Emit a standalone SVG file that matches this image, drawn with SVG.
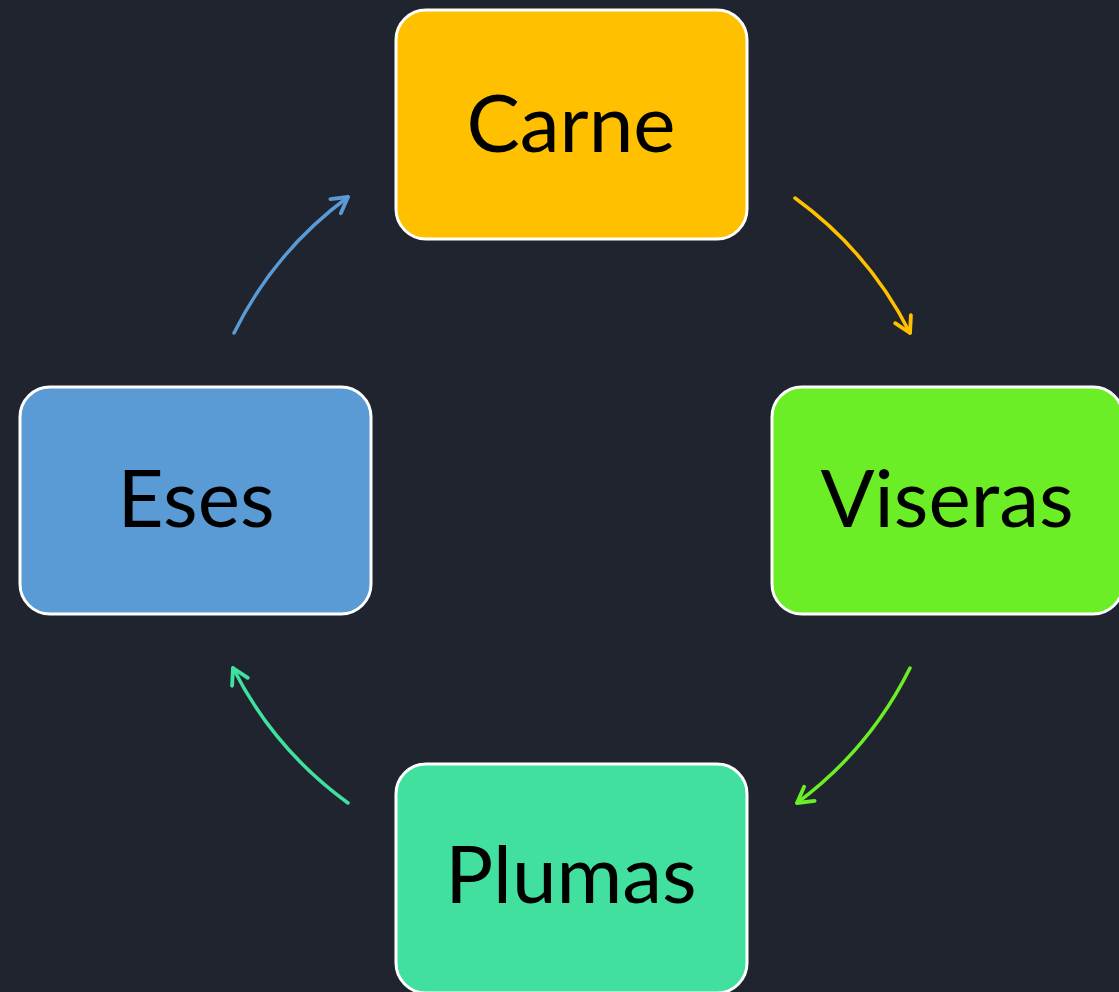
<svg xmlns="http://www.w3.org/2000/svg" width="1119" height="992" viewBox="0 0 1119 992">
<style>
.box{stroke:#ffffff;stroke-width:3}
.lbl{font-family:Lato,"Liberation Sans",sans-serif;font-size:80px;fill:#000000;text-anchor:middle}
.arc{fill:none;stroke-width:3.5;stroke-linecap:round}
</style>
<defs>
<marker id="mO" viewBox="0 0 20 20" refX="17" refY="10" markerWidth="22" markerHeight="22" markerUnits="userSpaceOnUse" orient="auto"><path d="M3,2 L17,10 L3,18" fill="none" stroke="#FFC000" stroke-width="3.5" stroke-linecap="round" stroke-linejoin="round"/></marker>
<marker id="mG" viewBox="0 0 20 20" refX="17" refY="10" markerWidth="22" markerHeight="22" markerUnits="userSpaceOnUse" orient="auto"><path d="M3,2 L17,10 L3,18" fill="none" stroke="#6BEE25" stroke-width="3.5" stroke-linecap="round" stroke-linejoin="round"/></marker>
<marker id="mT" viewBox="0 0 20 20" refX="17" refY="10" markerWidth="22" markerHeight="22" markerUnits="userSpaceOnUse" orient="auto"><path d="M3,2 L17,10 L3,18" fill="none" stroke="#40E09E" stroke-width="3.5" stroke-linecap="round" stroke-linejoin="round"/></marker>
<marker id="mB" viewBox="0 0 20 20" refX="17" refY="10" markerWidth="22" markerHeight="22" markerUnits="userSpaceOnUse" orient="auto"><path d="M3,2 L17,10 L3,18" fill="none" stroke="#5B9BD5" stroke-width="3.5" stroke-linecap="round" stroke-linejoin="round"/></marker>
</defs>
<rect width="1119" height="992" fill="#20242F"/>
<g id="connectors">
<path class="arc" d="M795,198 A377,377 0 0 1 910,333" stroke="#FFC000" marker-end="url(#mO)"/>
<path class="arc" d="M910,668 A377,377 0 0 1 797,803" stroke="#6BEE25" marker-end="url(#mG)"/>
<path class="arc" d="M348,803 A377,377 0 0 1 233,668" stroke="#40E09E" marker-end="url(#mT)"/>
<path class="arc" d="M234,333 A377,377 0 0 1 348,197" stroke="#5B9BD5" marker-end="url(#mB)"/>
</g>
<g id="carne">
<rect class="box" x="396" y="10" width="351" height="229" rx="30" fill="#FFC000"/>
<text class="lbl" x="571" y="152">Carne</text>
</g>
<g id="viseras">
<rect class="box" x="772" y="387" width="351" height="227" rx="30" fill="#6BEE25"/>
<text class="lbl" x="947" y="527">Viseras</text>
</g>
<g id="plumas">
<rect class="box" x="396" y="764" width="351" height="229" rx="30" fill="#42E09E"/>
<text class="lbl" x="571" y="903">Plumas</text>
</g>
<g id="eses">
<rect class="box" x="20" y="387" width="351" height="227" rx="30" fill="#5B9BD5"/>
<text class="lbl" x="196" y="527">Eses</text>
</g>
</svg>
